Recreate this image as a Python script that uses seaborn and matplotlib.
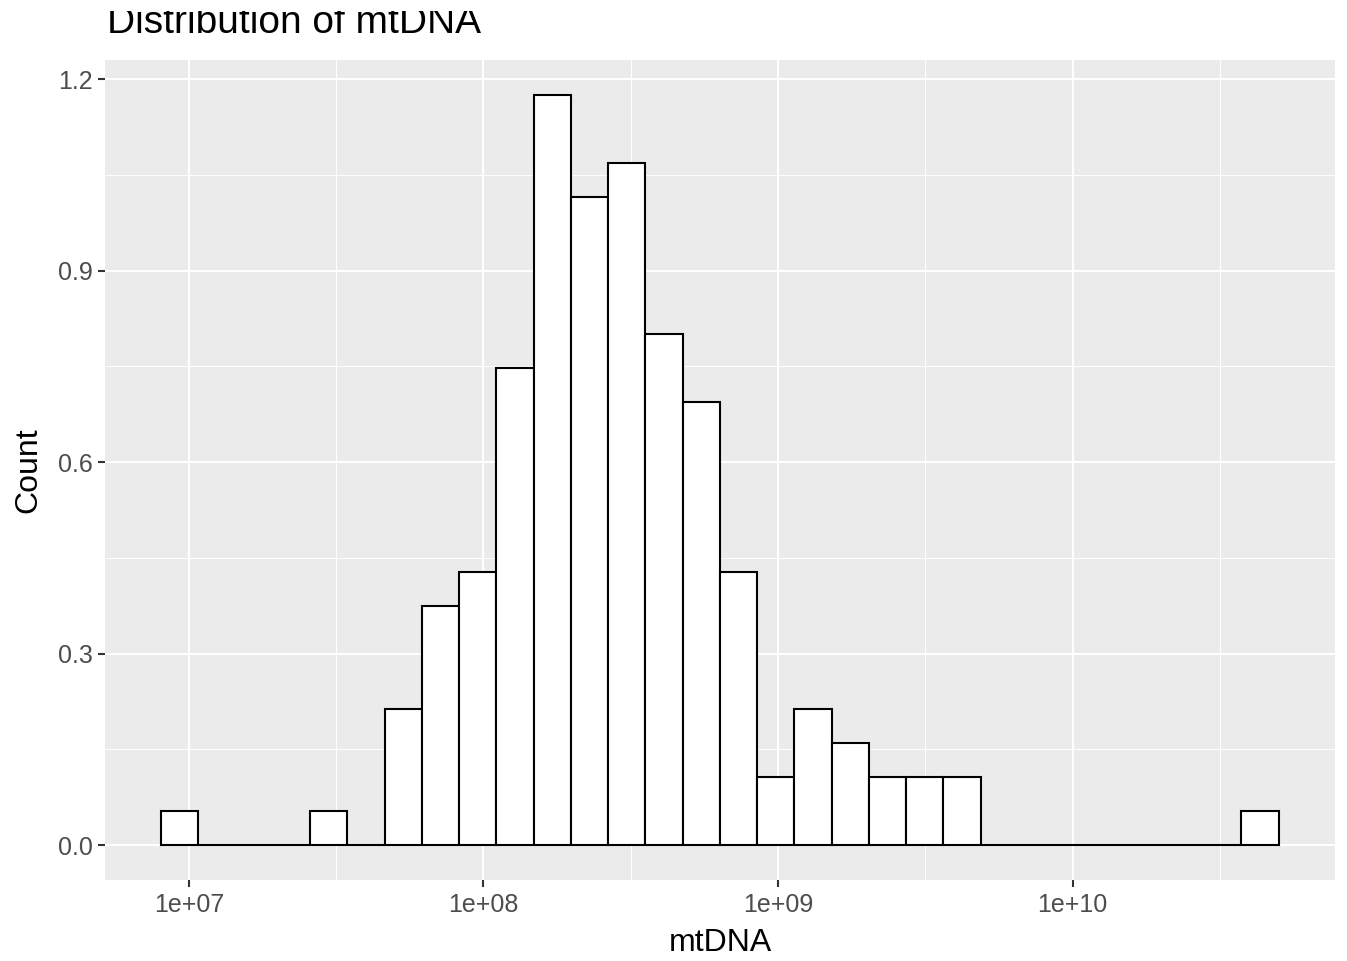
import numpy as np
import pandas as pd
import seaborn as sns
import matplotlib.pyplot as plt
from matplotlib.patches import Rectangle
from matplotlib.ticker import FixedLocator, FuncFormatter

# counts per log10 bin (30 bins); plotted as density
counts = [1, 0, 0, 0, 1, 0, 4, 7, 8, 14, 22, 19, 20, 15, 13, 8,
          2, 4, 3, 2, 2, 2, 0, 0, 0, 0, 0, 0, 0, 1]
log_lo, log_hi = 6.905, 10.700   # bin range in log10(mtDNA)
n_bins = len(counts)

x_ticks = [1e7, 1e8, 1e9, 1e10]
x_minor = [10 ** 7.5, 10 ** 8.5, 10 ** 9.5, 10 ** 10.5]
y_ticks = [0.0, 0.3, 0.6, 0.9, 1.2]
y_minor = [0.15, 0.45, 0.75, 1.05]

edges = np.linspace(log_lo, log_hi, n_bins + 1)
mids = 10 ** ((edges[:-1] + edges[1:]) / 2)
df = pd.DataFrame({"mtDNA": mids, "n": counts})

## ggplot-ish theme
sns.set_theme(style="darkgrid", rc={"axes.facecolor": "#EBEBEB", "grid.color": "white",
                                    "xtick.bottom": True, "ytick.left": True})
plt.rcParams['font.family'] = ['Liberation Sans', 'DejaVu Sans']

fig = plt.figure(figsize=(13.47, 9.61), dpi=100)
ax = fig.add_axes([105 / 1347, 81 / 961, 1230 / 1347, 820 / 961])

sns.histplot(data=df, x="mtDNA", weights="n", bins=n_bins, binrange=(log_lo, log_hi),
             log_scale=True, stat="density", color="white", edgecolor="black",
             linewidth=1.5, alpha=1, ax=ax)

ax.set_xlim(10 ** 6.715, 10 ** 10.891)
ax.set_ylim(-0.0548, 1.230)
ax.xaxis.set_major_locator(FixedLocator(x_ticks))
ax.xaxis.set_minor_locator(FixedLocator(x_minor))
ax.xaxis.set_major_formatter(FuncFormatter(lambda v, pos: '1e+%02d' % round(np.log10(v))))
ax.yaxis.set_major_locator(FixedLocator(y_ticks))
ax.yaxis.set_minor_locator(FixedLocator(y_minor))
ax.yaxis.set_major_formatter(FuncFormatter(lambda v, pos: '%.1f' % v))

ax.grid(which='major', color='white', lw=1.5)
ax.grid(which='minor', color='white', lw=0.7)
ax.tick_params(which='major', length=5, width=1.5, color='#333333',
               labelcolor='#4D4D4D', labelsize=18, pad=4)
ax.tick_params(which='minor', length=0)
for s in ax.spines.values():
    s.set_visible(False)

ax.set_xlabel("mtDNA", fontsize=23, color='black', labelpad=8)
ax.set_ylabel("Count", fontsize=23, color='black', labelpad=10)
fig.text(107 / 1347, 1 - 33 / 961, "Distribution of mtDNA", fontsize=28,
         ha='left', va='baseline', color='black')
# the original screenshot has the top of the title cropped off
fig.patches.append(Rectangle((0, 1 - 11 / 961), 1, 11 / 961, transform=fig.transFigure,
                             facecolor='white', edgecolor='none', zorder=10))

fig.savefig("out.png", dpi=100)
